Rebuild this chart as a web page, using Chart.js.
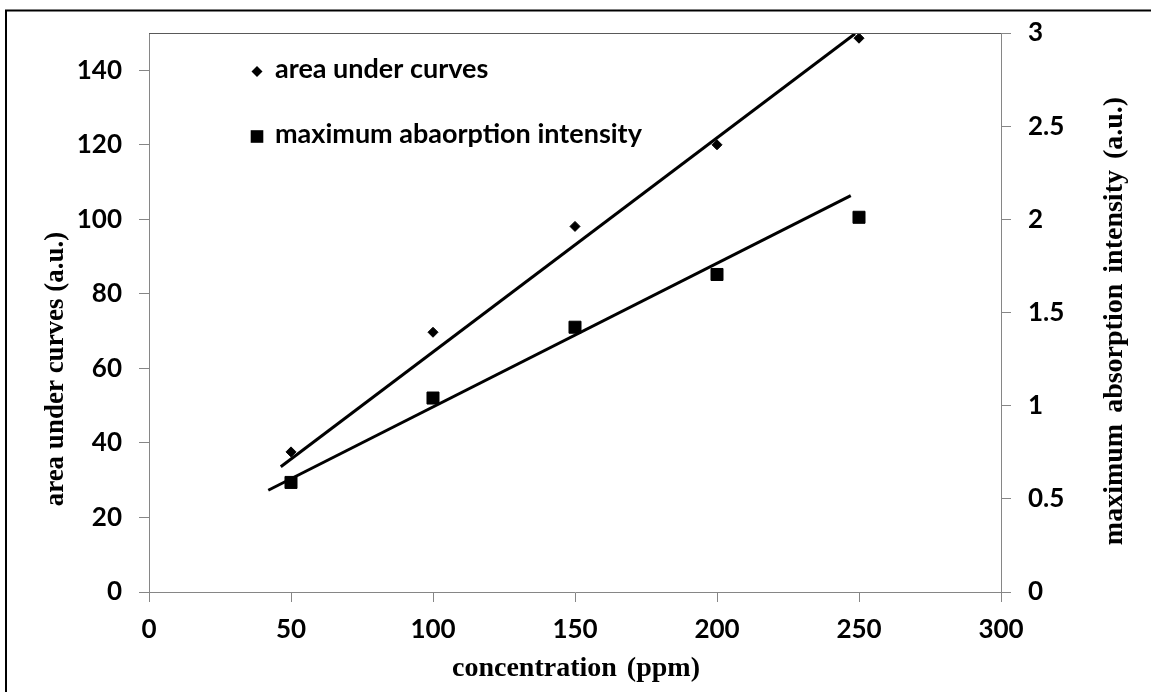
<!DOCTYPE html>
<html>
<head>
<meta charset="utf-8">
<script src="https://cdn.jsdelivr.net/npm/chart.js@4.4.1/dist/chart.umd.min.js"></script>
<style>
  html, body { margin: 0; padding: 0; background: #fff; }
  #wrap { width: 1151px; height: 692px; position: relative; }
</style>
</head>
<body>
<div id="wrap"><canvas id="chart" width="1151" height="692"></canvas></div>
<script>
// concentration (ppm) for each sample
const concentration = [50, 100, 150, 200, 250];
const areaUnderCurves = [37.6, 69.7, 98.1, 120.0, 148.6];
const maxAbsorption = [0.588, 1.041, 1.421, 1.704, 2.011];

// straight fit lines, start and end
const areaFitX = [46.4, 248.6];
const areaFitY = [33.6, 149.8];
const absFitX = [42.0, 247.1];
const absFitY = [0.546, 2.127];

const xTicks = [0, 50, 100, 150, 200, 250, 300];
const leftTicks = [0, 20, 40, 60, 80, 100, 120, 140];
const rightTicks = [0, 0.5, 1, 1.5, 2, 2.5, 3];

const seriesNames = ['area under curves', 'maximum abaorption intensity'];
const xTitle = 'concentration (ppm)';
const leftTitle = 'area under curves (a.u.)';
const rightTitle = 'maximum absorption intensity (a.u.)';

const axisGray = '#868686';
const tickFont = { family: 'Lato', weight: 'bold', size: 26 };
const serif = '"Liberation Serif", "Times New Roman", serif';

const toPoints = (xs, ys) => xs.map((x, i) => ({ x: x, y: ys[i] }));

function fixedTicks(list) {
    return scale => { scale.ticks = list.map(v => ({ value: v })); };
}

const axisBase = {
    type: 'linear',
    grid: { drawOnChartArea: false, drawTicks: true, tickLength: 10, color: axisGray, lineWidth: 1 },
    border: { display: true, color: axisGray, width: 1 },
    ticks: {
        font: tickFont,
        color: '#000',
        padding: 17,
        autoSkip: false,
        maxRotation: 0,
        callback: v => String(v)
    }
};

function rotatedText(ctx, text, x, y) {
    ctx.save();
    ctx.translate(x, y);
    ctx.rotate(-Math.PI / 2);
    ctx.fillText(text, 0, 0);
    ctx.restore();
}

// frame, axis titles and the in-plot legend
const decorations = {
    id: 'decorations',
    afterDraw(chart) {
        const ctx = chart.ctx;
        const area = chart.chartArea;
        ctx.save();

        ctx.strokeStyle = '#000';
        ctx.lineWidth = 2;
        ctx.strokeRect(6, 10.5, 1200, 800);

        ctx.strokeStyle = '#595959';
        ctx.lineWidth = 1;
        ctx.beginPath();
        ctx.moveTo(area.left, area.top + 0.5);
        ctx.lineTo(area.right, area.top + 0.5);
        ctx.stroke();

        ctx.fillStyle = '#000';
        ctx.textAlign = 'center';
        ctx.textBaseline = 'alphabetic';
        ctx.font = 'bold 28px ' + serif;
        ctx.wordSpacing = '3px';
        ctx.fillText(xTitle, 576, 676);

        ctx.font = 'bold 27px ' + serif;
        ctx.wordSpacing = '0px';
        rotatedText(ctx, leftTitle, 63, 369);

        ctx.font = 'bold 28px ' + serif;
        ctx.wordSpacing = '4px';
        rotatedText(ctx, rightTitle, 1122, 321);
        ctx.wordSpacing = '0px';

        // legend markers
        ctx.beginPath();
        ctx.moveTo(257 - 5.5, 71.5);
        ctx.lineTo(257, 71.5 - 5.5);
        ctx.lineTo(257 + 5.5, 71.5);
        ctx.lineTo(257, 71.5 + 5.5);
        ctx.closePath();
        ctx.fill();
        ctx.fillRect(257 - 6.3, 136.5 - 6.3, 12.6, 12.6);

        ctx.font = 'bold 27px Lato';
        ctx.textAlign = 'left';
        ctx.fillText(seriesNames[0], 275, 78);
        ctx.fillText(seriesNames[1], 275, 143);

        ctx.restore();
    }
};

new Chart(document.getElementById('chart'), {
    type: 'scatter',
    data: {
        datasets: [
            {
                label: seriesNames[0],
                data: toPoints(concentration, areaUnderCurves),
                yAxisID: 'y',
                pointStyle: 'rectRot',
                pointRadius: 5,
                backgroundColor: '#000',
                borderColor: '#000',
                borderWidth: 1
            },
            {
                label: seriesNames[1],
                data: toPoints(concentration, maxAbsorption),
                yAxisID: 'y1',
                pointStyle: 'rect',
                pointRadius: 8.5,
                backgroundColor: '#000',
                borderColor: '#000',
                borderWidth: 1
            },
            {
                label: 'area fit',
                data: toPoints(areaFitX, areaFitY),
                yAxisID: 'y',
                showLine: true,
                pointRadius: 0,
                borderColor: '#000',
                borderWidth: 3
            },
            {
                label: 'absorption fit',
                data: toPoints(absFitX, absFitY),
                yAxisID: 'y1',
                showLine: true,
                pointRadius: 0,
                borderColor: '#000',
                borderWidth: 3
            }
        ]
    },
    options: {
        responsive: false,
        animation: false,
        layout: { padding: { top: 33, left: 0, right: 0, bottom: 0 } },
        plugins: {
            legend: { display: false },
            tooltip: { enabled: false }
        },
        scales: {
            x: {
                ...axisBase,
                position: 'bottom',
                min: 0,
                max: 300,
                ticks: { ...axisBase.ticks, padding: 12 },
                afterBuildTicks: fixedTicks(xTicks),
                afterFit: s => { s.height = 100; }
            },
            y: {
                ...axisBase,
                position: 'left',
                min: 0,
                max: 150,
                afterBuildTicks: fixedTicks(leftTicks),
                afterFit: s => { s.width = 149; }
            },
            y1: {
                ...axisBase,
                position: 'right',
                min: 0,
                max: 3,
                afterBuildTicks: fixedTicks(rightTicks),
                afterFit: s => { s.width = 150; }
            }
        }
    },
    plugins: [decorations]
});
</script>
</body>
</html>
